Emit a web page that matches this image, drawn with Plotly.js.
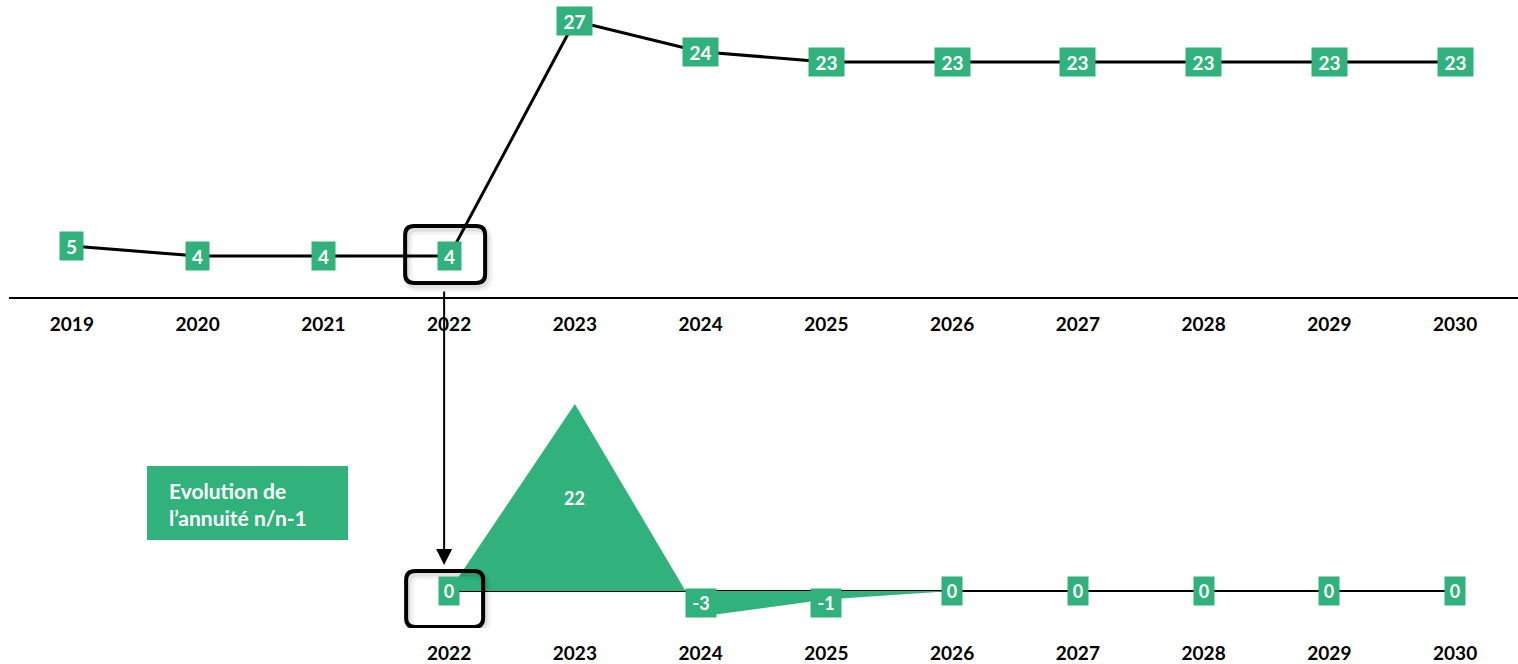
<!DOCTYPE html>
<html>
<head>
<meta charset="utf-8">
<script src="https://cdn.plot.ly/plotly-3.0.1.min.js"></script>
<style>
  html, body { margin: 0; padding: 0; background: #ffffff; }
  #chart { width: 1518px; height: 664px; }
</style>
</head>
<body>
<div id="chart"></div>
<script>
// Annuité annuelle
const years = [2019, 2020, 2021, 2022, 2023, 2024, 2025, 2026, 2027, 2028, 2029, 2030];
const annuite = [5, 4, 4, 4, 27, 24, 23, 23, 23, 23, 23, 23];

// Evolution de l'annuité d'une année sur l'autre
const evolYears = [2022, 2023, 2024, 2025, 2026, 2027, 2028, 2029, 2030];
const evolution = [0, 22, -3, -1, 0, 0, 0, 0, 0];

const evolTitle = ['Evolution de', 'l\u2019annuité n/n-1'];
const highlightYear = 2022;

// ---- style ----
const W = 1518, H = 664;
const GREEN = '#31B27C';
const FONT = 'Lato, "Open Sans", "DejaVu Sans", sans-serif';
const py = p => 1 - p / H;        // pixel row -> paper fraction
const px = p => p / W;            // pixel column -> paper fraction
const xRange = [2018.5, 2030.5];

// green value tag sitting on a point
function tag(x, y, xref, yref, size, base, perChar) {
  const t = String(y);
  const a = {
    x: x, y: y, xref: xref, yref: yref, text: t, showarrow: false,
    xanchor: 'center', yanchor: 'middle',
    bgcolor: GREEN, borderpad: 1,
    width: base + perChar * t.length, height: 26,
    font: { family: FONT, size: size, color: '#ffffff', weight: 'bold' }
  };
  if (y < 0) {
    // negative tags hang just under the zero line
    a.y = 0; a.yanchor = 'top'; a.yshift = 3;
  }
  return a;
}

// rounded rectangle path, pixel offsets around an anchor (y pointing up)
function roundRect(x0, x1, y0, y1, r) {
  return 'M' + (x0 + r) + ',' + y0 + ' L' + (x1 - r) + ',' + y0 +
    ' Q' + x1 + ',' + y0 + ' ' + x1 + ',' + (y0 + r) +
    ' L' + x1 + ',' + (y1 - r) +
    ' Q' + x1 + ',' + y1 + ' ' + (x1 - r) + ',' + y1 +
    ' L' + (x0 + r) + ',' + y1 +
    ' Q' + x0 + ',' + y1 + ' ' + x0 + ',' + (y1 - r) +
    ' L' + x0 + ',' + (y0 + r) +
    ' Q' + x0 + ',' + y0 + ' ' + (x0 + r) + ',' + y0 + ' Z';
}

function highlight(xa, ya, yVal, box) {
  const common = {
    type: 'path', xref: xa, yref: ya, xsizemode: 'pixel', ysizemode: 'pixel',
    xanchor: highlightYear, yanchor: yVal, fillcolor: 'rgba(0,0,0,0)', layer: 'above'
  };
  const [x0, x1, y0, y1] = box;
  return [
    Object.assign({}, common, { path: roundRect(x0 + 3, x1 + 3, y0 - 4, y1 - 4, 10), line: { color: 'rgba(0,0,0,0.05)', width: 9 } }),
    Object.assign({}, common, { path: roundRect(x0 + 2, x1 + 2, y0 - 3, y1 - 3, 10), line: { color: 'rgba(0,0,0,0.08)', width: 5 } }),
    Object.assign({}, common, { path: roundRect(x0, x1, y0, y1, 9), line: { color: '#000000', width: 4 } })
  ];
}

const traces = [
  {
    x: years, y: annuite, xaxis: 'x', yaxis: 'y', type: 'scatter', mode: 'lines',
    line: { color: '#000000', width: 3 }, hoverinfo: 'skip'
  },
  {
    x: evolYears, y: evolution, xaxis: 'x2', yaxis: 'y2', type: 'scatter', mode: 'lines',
    fill: 'tozeroy', fillcolor: GREEN, line: { color: GREEN, width: 0 }, hoverinfo: 'skip'
  }
];

const annotations = [];
years.forEach((yr, i) => annotations.push(tag(yr, annuite[i], 'x', 'y', 19, 9, 12)));
evolYears.forEach((yr, i) => {
  const v = evolution[i];
  if (v > 5) {
    // tall peak: value written inside the filled area
    annotations.push({
      x: yr, y: v / 2, xref: 'x2', yref: 'y2', text: String(v), showarrow: false,
      font: { family: FONT, size: 18, color: '#ffffff', weight: 'bold' }
    });
  } else {
    annotations.push(tag(yr, v, 'x2', 'y2', 18, 8, 10));
  }
});

// arrow linking the two 2022 points
annotations.push({
  x: highlightYear, xref: 'x', xshift: -5, y: py(565), yref: 'paper',
  ax: 0, ay: -275, axref: 'pixel', ayref: 'pixel', text: '', showarrow: true,
  arrowhead: 2, arrowsize: 1.6, arrowwidth: 2, arrowcolor: '#000000'
});

// caption of the lower chart
annotations.push({
  x: px(167), y: py(504), xref: 'paper', yref: 'paper', xanchor: 'left', yanchor: 'middle',
  align: 'left', showarrow: false, text: evolTitle.join('<br>'),
  font: { family: FONT, size: 21, color: '#ffffff', weight: 'bold' }
});

const i22 = years.indexOf(highlightYear);
const j22 = evolYears.indexOf(highlightYear);

const shapes = [
  { type: 'rect', xref: 'paper', yref: 'paper', x0: px(147), x1: px(348), y0: py(540), y1: py(466),
    fillcolor: GREEN, line: { width: 0 }, layer: 'below' },
  { type: 'line', xref: 'x2', yref: 'y2', x0: evolYears[0], x1: evolYears[evolYears.length - 1] + 0.05,
    y0: 0, y1: 0, line: { color: '#000000', width: 2 }, layer: 'below' }
].concat(
  highlight('x', 'y', annuite[i22], [-44, 36, -27, 30]),
  highlight('x2', 'y2', evolution[j22], [-43, 34, -36, 20])
);

const tickFont = { family: FONT, size: 19, color: '#000000', weight: 'bold' };

const layout = {
  width: W, height: H,
  margin: { l: 0, r: 0, t: 0, b: 0, pad: 0 },
  paper_bgcolor: '#ffffff', plot_bgcolor: 'rgba(0,0,0,0)',
  showlegend: false, hovermode: false,
  xaxis: {
    domain: [px(9), 1], range: xRange, anchor: 'y',
    showline: true, linecolor: '#000000', linewidth: 2,
    showgrid: false, zeroline: false, ticks: '',
    tickmode: 'array', tickvals: years, ticktext: years.map(String),
    tickfont: tickFont, ticklabelstandoff: 9, fixedrange: true
  },
  yaxis: {
    domain: [py(297), 1], range: [0, 297 / 10.22], anchor: 'x',
    visible: false, fixedrange: true
  },
  xaxis2: {
    domain: [px(9), 1], range: xRange, anchor: 'y2',
    showline: false, showgrid: false, zeroline: false, ticks: '',
    tickmode: 'array', tickvals: evolYears, ticktext: evolYears.map(String),
    tickfont: tickFont, ticklabelstandoff: 12, fixedrange: true
  },
  yaxis2: {
    domain: [py(628), py(380)], range: [-37 / 8.5, 211 / 8.5], anchor: 'x2',
    visible: false, fixedrange: true
  },
  annotations: annotations,
  shapes: shapes
};

Plotly.newPlot('chart', traces, layout, { displayModeBar: false, staticPlot: true });
</script>
</body>
</html>
